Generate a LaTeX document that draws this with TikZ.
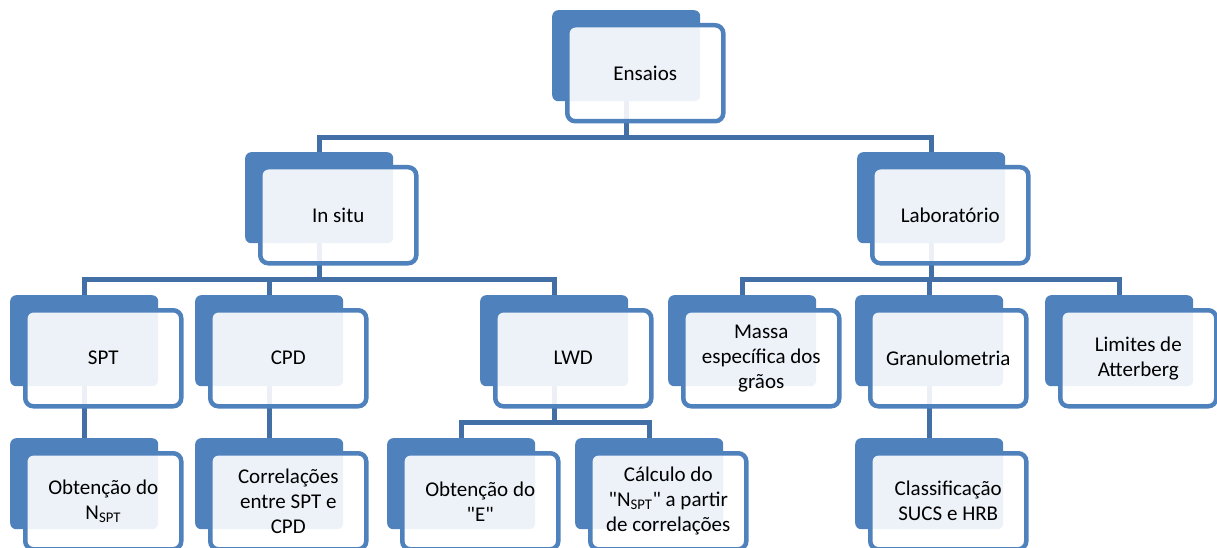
\documentclass[tikz,border=0pt]{standalone}
\usepackage{fontspec}
\setmainfont{Carlito}[Ligatures=TeXOff]
\usetikzlibrary{positioning, calc, backgrounds}
\definecolor{ensblue}{RGB}{79,129,189}
\definecolor{enslink}{RGB}{66,111,165}
\tikzset{
    x=1pt, y=-1pt,
    font=\fontsize{21}{25}\selectfont,
    ens_back/.style={
        rectangle,
        rounded corners=6pt,
        fill=ensblue,
        draw=none,
        inner sep=0pt,
        minimum width=148pt,
        minimum height=91pt,
        anchor=north west
    },
    ens_front/.style={
        rectangle,
        rounded corners=8pt,
        draw=ensblue,
        line width=4.5pt,
        fill=white,
        fill opacity=0.9,
        text opacity=1,
        minimum width=156pt,
        minimum height=96pt,
        inner sep=2pt,
        align=center,
        anchor=north west
    },
    ens_link/.style={
        draw=enslink,
        line width=5pt
    }
}
\newcommand{\ensbox}[4]{
    \node[ens_back] (#1b) at (#2,#3) {};
    \node[ens_front] (#1) at ([shift={(13,13)}]#1b.north west) {#4};
}

\begin{document}
\begin{tikzpicture}
\useasboundingbox (0,0) rectangle (1217,548);

% --- Level 0 ---
\ensbox{Ensaios}{552}{10}{Ensaios}

% --- Level 1 ---
\ensbox{InSitu}{245}{152}{In situ}
\ensbox{Lab}{857}{152}{Laboratório}

% --- Level 2 ---
\ensbox{SPT}{10}{295}{SPT}
\ensbox{CPD}{195}{295}{CPD}
\ensbox{LWD}{480}{295}{LWD}
\ensbox{Massa}{668}{295}{Massa\\específica dos\\grãos}
\ensbox{Granulo}{855}{295}{Granulometria}
\ensbox{Limites}{1045}{295}{Limites de\\Atterberg}

% --- Level 3 ---
\ensbox{ObtN}{10}{438}{Obtenção do\\N\textsubscript{SPT}}
\ensbox{Correl}{195}{438}{Correlações\\entre SPT e\\CPD}
\ensbox{ObtE}{387}{438}{Obtenção do\\"E"}
\ensbox{CalcN}{575}{438}{Cálculo do\\"N\textsubscript{SPT}" a partir\\de correlações}
\ensbox{Classif}{855}{438}{Classificação\\SUCS e HRB}

% --- Connectors ---
\begin{scope}[on background layer]
\draw[ens_link] (Ensaiosb.south) -- ++(0,36) -| (InSitub.north);
\draw[ens_link] (Ensaiosb.south) -- ++(0,36) -| (Labb.north);

\draw[ens_link] (InSitub.south) -- ++(0,36) -| (SPTb.north);
\draw[ens_link] (InSitub.south) -- ++(0,36) -| (CPDb.north);
\draw[ens_link] (InSitub.south) -- ++(0,36) -| (LWDb.north);

\draw[ens_link] (Labb.south) -- ++(0,36) -| (Massab.north);
\draw[ens_link] (Labb.south) -- ++(0,36) -| (Granulob.north);
\draw[ens_link] (Labb.south) -- ++(0,36) -| (Limitesb.north);

\draw[ens_link] (SPTb.south) -- ++(0,36) -| (ObtNb.north);
\draw[ens_link] (CPDb.south) -- ++(0,36) -| (Correlb.north);
\draw[ens_link] (LWDb.south) -- ++(0,36) -| (ObtEb.north);
\draw[ens_link] (LWDb.south) -- ++(0,36) -| (CalcNb.north);
\draw[ens_link] (Granulob.south) -- ++(0,36) -| (Classifb.north);
\end{scope}

\end{tikzpicture}
\end{document}
